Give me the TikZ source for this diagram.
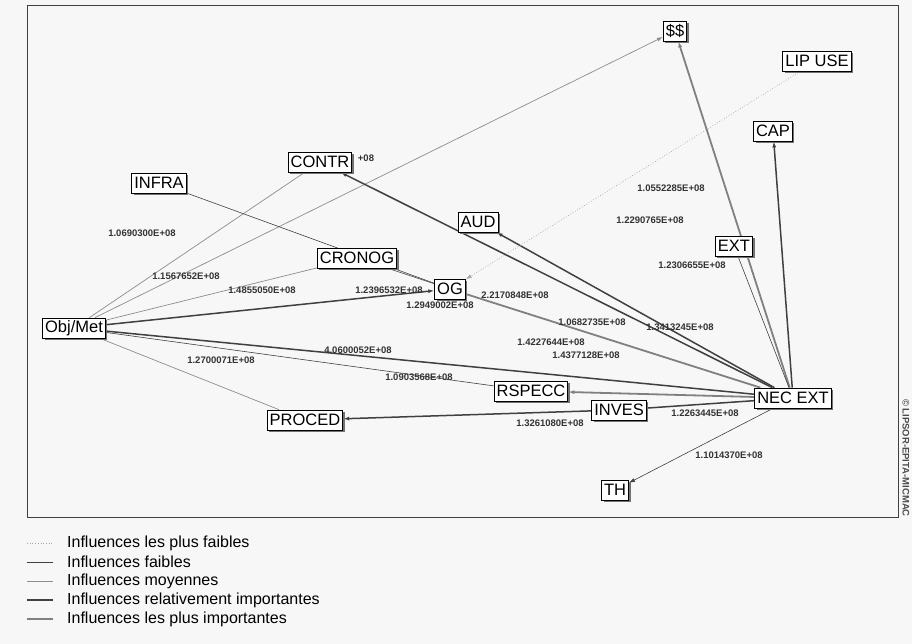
\documentclass[tikz,border=0pt]{standalone}
\usepackage{fontspec}
\setmainfont{Liberation Sans}
\usetikzlibrary{arrows.meta,shadows,backgrounds}

\begin{document}
\begin{tikzpicture}[x=1pt,y=1pt,
  var/.style={draw=black,fill=white,line width=0.8pt,font=\fontsize{16.5}{16.5}\selectfont,
    inner xsep=2.5pt,inner ysep=1pt,minimum height=20pt,
    drop shadow={shadow xshift=2pt,shadow yshift=-2pt,fill=black!55,opacity=1}},
  val/.style={font=\fontsize{9.5}{9.5}\selectfont\bfseries,text=black!80,inner sep=0pt},
  leg/.style={font=\fontsize{16}{16}\selectfont,anchor=west,inner sep=0pt},
  tip/.style={-{Latex[length=6pt,width=4pt]}},
  inf0/.style={draw=black!35,dotted,line width=0.7pt},
  inf1/.style={draw=black!75,line width=0.6pt},
  inf2/.style={draw=black!45,line width=0.7pt},
  inf3/.style={draw=black!75,line width=1.5pt},
  inf4/.style={draw=black!50,line width=1.8pt}]
\useasboundingbox (0,0) rectangle (912,-644);
\draw [black!75,line width=1pt] (27,-6) rectangle (898,-517);
\node [val,rotate=-90,anchor=east,text=black!70] (copy) at (906,-517) {\copyright{} LIPSOR-EPITA-MICMAC};
% values
\node [val] (v1) at (142,-233) {1.0690300E+08};
\node [val] (v2) at (366,-158) {+08};
\node [val] (v3) at (186,-276) {1.1567652E+08};
\node [val] (v4) at (262,-290) {1.4855050E+08};
\node [val] (v5) at (389,-290) {1.2396532E+08};
\node [val] (v6) at (440,-305) {1.2949002E+08};
\node [val] (v7) at (515,-295) {2.2170848E+08};
\node [val] (v8) at (671,-188) {1.0552285E+08};
\node [val] (v9) at (650,-220) {1.2290765E+08};
\node [val] (v10) at (692,-265) {1.2306655E+08};
\node [val] (v11) at (592,-322) {1.0682735E+08};
\node [val] (v12) at (680,-327) {1.3413245E+08};
\node [val] (v13) at (551,-342) {1.4227644E+08};
\node [val] (v14) at (586,-355) {1.4377128E+08};
\node [val] (v15) at (358,-350) {4.0600052E+08};
\node [val] (v16) at (221,-360) {1.2700071E+08};
\node [val] (v17) at (419,-377) {1.0903568E+08};
\node [val] (v18) at (550,-423) {1.3261080E+08};
\node [val] (v19) at (705,-413) {1.2263445E+08};
\node [val] (v20) at (729,-455) {1.1014370E+08};
% variables
\node [var] (dollars) at (675,-31) {\$\$};
\node [var] (lipuse) at (817,-61) {LIP USE};
\node [var] (cap) at (773,-131) {CAP};
\node [var] (contr) at (320,-162) {CONTR};
\node [var] (infra) at (159,-183) {INFRA};
\node [var] (aud) at (478,-222) {AUD};
\node [var] (ext) at (734,-246) {EXT};
\node [var] (cronog) at (357,-258) {CRONOG};
\node [var] (og) at (450,-289) {OG};
\node [var] (objmet) at (74,-328) {Obj/Met};
\node [var] (rspecc) at (531,-391) {RSPECC};
\node [var] (inves) at (619,-410) {INVES};
\node [var] (proced) at (305,-420) {PROCED};
\node [var] (necext) at (793,-398) {NEC EXT};
\node [var] (th) at (615,-490) {TH};
% influences
\begin{pgfonlayer}{background}
\fill [black!3] (0,0) rectangle (912,-644);
\draw [inf2,tip] (objmet) -- (dollars);
\draw [inf2] (objmet) -- (contr);
\draw [inf2] (objmet) -- (cronog);
\draw [inf3,tip] (objmet) -- (og);
\draw [inf3] (objmet) -- (necext);
\draw [inf1] (objmet) -- (rspecc);
\draw [inf2] (objmet) -- (proced);
\draw [inf1] (infra) -- (og);
\draw [inf1] (cronog) -- (og);
\draw [inf3,tip] (necext) -- (contr);
\draw [inf3,tip] (necext) -- (aud);
\draw [inf4] (og) -- (necext);
\draw [inf0,tip] (lipuse) -- (og);
\draw [inf4,tip] (necext) -- (dollars);
\draw [inf1] (ext) -- (necext);
\draw [inf3,tip] (necext) -- (cap);
\draw [inf4,tip] (necext) -- (rspecc);
\draw [inf3] (necext) -- (inves);
\draw [inf3,tip] (inves) -- (proced);
\draw [inf1,tip] (necext) -- (th);
\end{pgfonlayer}
% legend
\draw [inf0] (27,-543) -- (53,-543);
\draw [inf1] (27,-562) -- (53,-562);
\draw [inf2] (27,-581) -- (53,-581);
\draw [inf3] (27,-600) -- (53,-600);
\draw [inf4] (27,-619) -- (53,-619);
\node [leg] (l0) at (67,-543) {Influences les plus faibles};
\node [leg] (l1) at (67,-562) {Influences faibles};
\node [leg] (l2) at (67,-581) {Influences moyennes};
\node [leg] (l3) at (67,-600) {Influences relativement importantes};
\node [leg] (l4) at (67,-619) {Influences les plus importantes};
\end{tikzpicture}
\end{document}
